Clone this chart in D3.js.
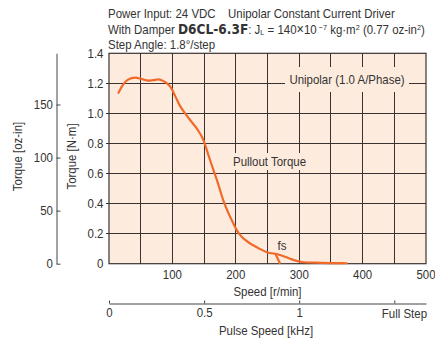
<!DOCTYPE html>
<html><head><meta charset="utf-8">
<script src="https://cdn.jsdelivr.net/npm/d3@7"></script>
<style>
html,body{margin:0;padding:0;background:#fff;}
svg{display:block;}
text{font-family:"Liberation Sans",Arial,sans-serif;fill:#333;}
</style></head>
<body>
<svg id="c" width="435" height="341"></svg>
<script>
// Data
const speedTicks = [100, 200, 300, 400, 500];
const torqueTicks = [0, 0.2, 0.4, 0.6, 0.8, 1.0, 1.2, 1.4];
const ozTicks = [0, 50, 100, 150];
const pulseTicks = [0, 0.5, 1];
const pulseTickLabels = ["0", "0.5", "1"];
const fullStepKHz = 1.5;
const pulloutSpeed = [15,22,30,41,52,62,70,78,86,92,98,105,112,120,130,140,149,157,165,173,180,188,196,202,208,215,222,235,250,262,272,282,292,302,315,335,355,375];
const pulloutTorque = [1.137,1.19,1.225,1.238,1.228,1.218,1.222,1.226,1.215,1.198,1.17,1.11,1.05,1.0,0.945,0.89,0.822,0.72,0.62,0.52,0.424,0.34,0.269,0.22,0.185,0.158,0.136,0.105,0.075,0.066,0.055,0.04,0.024,0.013,0.008,0.006,0.004,0.003];
const fsSpeed = [262, 266, 270];
const fsTorque = [0.069, 0.035, 0];

const svg = d3.select("#c");
const L = 109, R = 426, T = 53.3, B = 263.7;
const x = d3.scaleLinear().domain([0, 500]).range([L, R]);
const y = d3.scaleLinear().domain([0, 1.4]).range([B, T]);
const NM_TO_OZIN = 141.612;
const yOz = d3.scaleLinear().domain([0, 1.4 * NM_TO_OZIN]).range([B, T]);
const pulse = d3.scaleLinear().domain([0, 500 / 300]).range([L, R]);

const bg = "#fdebdd", grid = "#3a3232", orange = "#f26a2a";
const FS = 12.6, SX = 0.91;

function txt(parent, px, py, s, anchor, rot) {
  const t = parent.append("text")
    .attr("transform", `translate(${px},${py})${rot ? " rotate(" + rot + ")" : ""} scale(${SX},1)`)
    .attr("font-size", FS).attr("text-anchor", anchor || "start");
  if (s !== undefined) t.text(s);
  return t;
}

// Title
txt(svg, 108, 17.5, "Power Input: 24 VDC");
txt(svg, 228, 17.5, "Unipolar Constant Current Driver");
const l2 = txt(svg, 108, 33.5);
l2.append("tspan").text("With Damper ");
l2.append("tspan").attr("font-family", "DejaVu Sans").attr("font-weight", "bold").attr("font-size", 13.4).text("D6CL-6.3F");
l2.append("tspan").text(": J");
l2.append("tspan").attr("font-size", 8).attr("dy", 1).text("L");
l2.append("tspan").attr("dy", -1).text(" = 140");
l2.append("tspan").attr("font-size", 14).text("×");
l2.append("tspan").text("10");
l2.append("tspan").attr("font-size", 8).attr("dy", -4).text(" −7");
l2.append("tspan").attr("dy", 4).text(" kg·m");
l2.append("tspan").attr("font-size", 8).attr("dy", -4).text("2");
l2.append("tspan").attr("dy", 4).text(" (0.77 oz-in");
l2.append("tspan").attr("font-size", 8).attr("dy", -4).text("2");
l2.append("tspan").attr("dy", 4).text(")");
txt(svg, 108, 48.5, "Step Angle: 1.8°/step");

// Plot background
svg.append("rect").attr("x", L).attr("y", T).attr("width", R - L).attr("height", B - T).attr("fill", bg);

// Grid
const gx = d3.range(50, 500, 50);
svg.append("g").selectAll("line").data(gx).join("line")
  .attr("x1", d => x(d)).attr("x2", d => x(d)).attr("y1", T).attr("y2", B)
  .attr("stroke", grid).attr("stroke-width", 1).attr("shape-rendering", "crispEdges");
svg.append("g").selectAll("line").data(torqueTicks.slice(1, -1)).join("line")
  .attr("x1", L - 3).attr("x2", R).attr("y1", d => y(d)).attr("y2", d => y(d))
  .attr("stroke", grid).attr("stroke-width", 1).attr("shape-rendering", "crispEdges");

// Label boxes (cover grid)
function boxLabel(cx, cy, w, h, s) {
  svg.append("rect").attr("x", cx - w / 2).attr("y", cy - h / 2).attr("width", w).attr("height", h).attr("fill", bg);
  txt(svg, cx, cy + 4.5, s, "middle");
}
boxLabel(347, 79.5, 124, 25, "Unipolar (1.0 A/Phase)");
boxLabel(269.5, 161.5, 79, 17, "Pullout Torque");

// Frame
svg.append("rect").attr("x", L).attr("y", T).attr("width", R - L).attr("height", B - T)
  .attr("fill", "none").attr("stroke", grid).attr("stroke-width", 1.2);

// Curves
const line = d3.line().x(d => x(d[0])).y(d => y(d[1])).curve(d3.curveMonotoneX);
svg.append("path").datum(pulloutSpeed.map((s, i) => [s, pulloutTorque[i]]))
  .attr("d", line).attr("fill", "none").attr("stroke", orange).attr("stroke-width", 2.2).attr("stroke-linecap", "round");
const line2 = d3.line().x(d => x(d[0])).y(d => y(d[1])).curve(d3.curveLinear);
svg.append("path").datum(fsSpeed.map((s, i) => [s, fsTorque[i]]))
  .attr("d", line2).attr("fill", "none").attr("stroke", orange).attr("stroke-width", 2.2);
txt(svg, 282, 249.5, "fs", "middle");

// Y axis N·m labels
const yl = svg.append("g");
torqueTicks.forEach(d => txt(yl, 103.5, y(d) + 4.5, d === 0 ? "0" : d.toFixed(1), "end"));

// X axis labels
const xl = svg.append("g");
speedTicks.forEach(d => txt(xl, x(d), 279, String(d), "middle"));
txt(svg, (L + R) / 2, 296, "Speed [r/min]", "middle");

// oz-in axis
const ozAxis = d3.axisLeft(yOz).tickValues(ozTicks).tickSizeInner(-4).tickSizeOuter(0).tickPadding(4);
const og = svg.append("g").attr("transform", "translate(56.5,0)").call(ozAxis);
og.select(".domain").attr("stroke", "#444");
og.selectAll(".tick line").attr("stroke", "#444");
og.selectAll(".tick text").attr("font-size", FS).attr("fill", "#333").attr("font-family", "Liberation Sans")
  .attr("transform", `scale(${SX},1)`);
txt(svg, 22, 156.5, "Torque [oz-in]", "middle", -90);
txt(svg, 76, 156.5, "Torque [N·m]", "middle", -90);

// Pulse speed axis
const pAxis = d3.axisBottom(pulse).tickValues(pulseTicks.concat([fullStepKHz])).tickSizeInner(-3).tickSizeOuter(0).tickPadding(5)
  .tickFormat((d, i) => i < pulseTickLabels.length ? pulseTickLabels[i] : "");
const pg = svg.append("g").attr("transform", "translate(0,303.5)").call(pAxis);
pg.select(".domain").attr("stroke", "#444");
pg.selectAll(".tick line").attr("stroke", "#444");
pg.selectAll(".tick text").attr("font-size", FS).attr("fill", "#333").attr("font-family", "Liberation Sans")
  .attr("transform", `scale(${SX},1)`);
txt(svg, 427, 317.5, "Full Step", "end");
txt(svg, 266, 334.5, "Pulse Speed [kHz]", "middle");
</script>
</body></html>
